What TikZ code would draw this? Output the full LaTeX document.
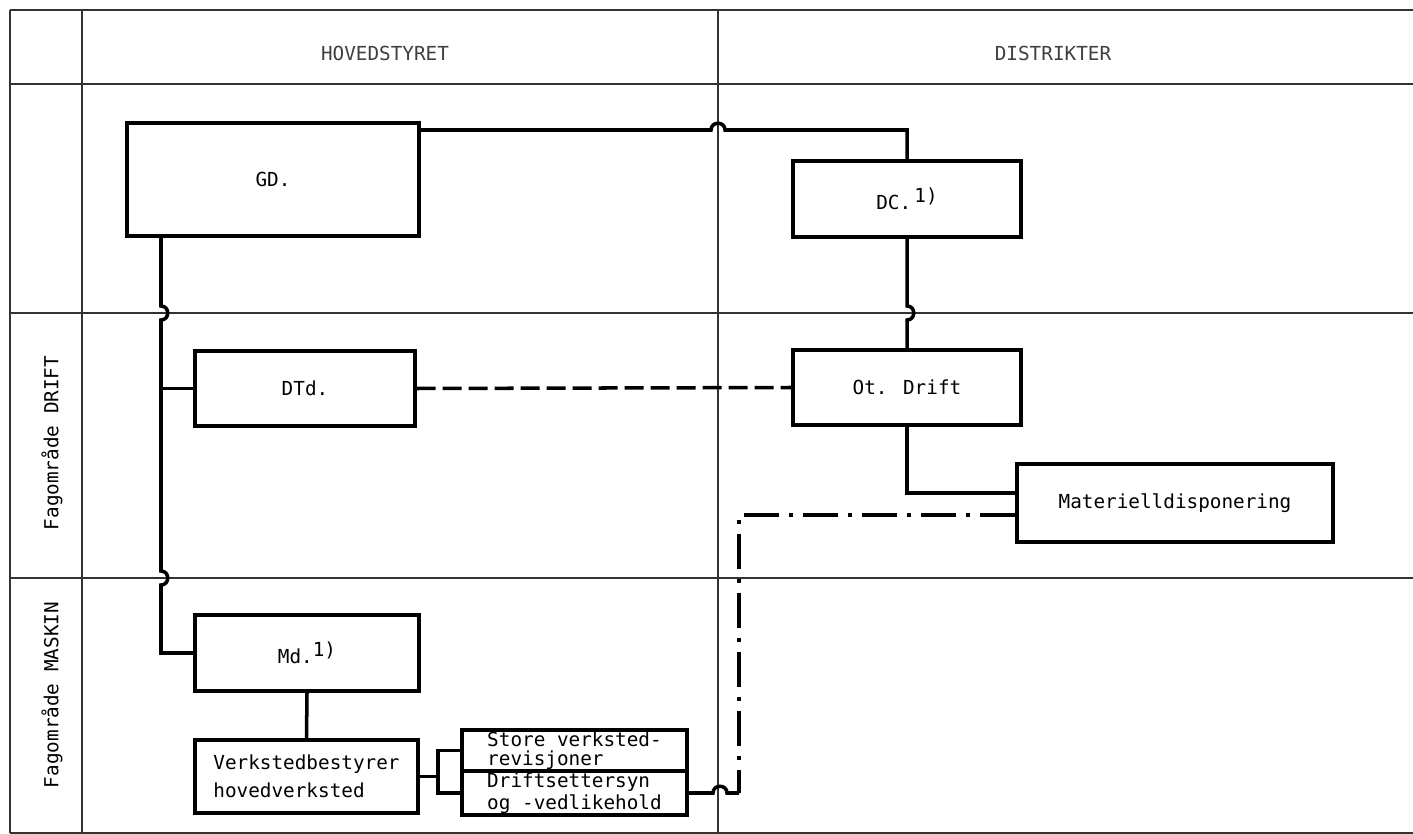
\documentclass[tikz,border=0pt]{standalone}
\usepackage{fontspec}
\setmainfont{DejaVu Sans Mono}
\begin{document}
\begin{tikzpicture}[x=0.02cm, y=-0.02cm, font=\fontsize{11}{12}\selectfont,
    frameline/.style={line width=1pt, black!80},
    orgbox/.style={draw, line width=2pt, inner sep=0pt},
    conn/.style={line width=2pt}]
  \useasboundingbox (0,0) rectangle (1413,834);

  % Table
  \foreach \y in {10,84,313,578,833}
    \draw[frameline] (10,\y) -- (1413,\y);
  \foreach \x in {10,82,718}
    \draw[frameline] (\x,10) -- (\x,833);

  % Headings
  \node[text=black!75] (hs) at (385,53) {HOVEDSTYRET};
  \node[text=black!75] (di) at (1053,53) {DISTRIKTER};
  \node[rotate=90] (fdrift) at (52,443) {Fagområde DRIFT};
  \node[rotate=90] (fmaskin) at (52,695) {Fagområde MASKIN};

  % Boxes
  \node[orgbox, minimum width=5.84cm, minimum height=2.26cm] (gd) at (273,179.5) {GD.};
  \node[orgbox, minimum width=4.56cm, minimum height=1.52cm] (dc) at (907,199) {DC.\,\raisebox{0.7ex}{1)}};
  \node[orgbox, minimum width=4.4cm, minimum height=1.5cm] (dtd) at (305,388.5) {DTd.};
  \node[orgbox, minimum width=4.56cm, minimum height=1.5cm] (otd) at (907,387.5) {Ot. Drift};
  \node[orgbox, minimum width=6.32cm, minimum height=1.56cm] (mat) at (1175,503) {Materielldisponering};
  \node[orgbox, minimum width=4.48cm, minimum height=1.52cm] (md) at (307,653) {Md.\raisebox{0.7ex}{1)}};
  \node[orgbox, minimum width=4.46cm, minimum height=1.46cm, align=left,
    font=\fontsize{11}{16}\selectfont] (verk) at (306.5,776.5) {Verkstedbestyrer\\hovedverksted};
  \node[orgbox, minimum width=4.5cm, minimum height=0.82cm, align=left,
    font=\fontsize{11}{10.5}\selectfont] (store) at (574.5,750.5) {Store verksted-\\revisjoner};
  \node[orgbox, minimum width=4.5cm, minimum height=0.88cm, align=left,
    font=\fontsize{11}{12.5}\selectfont] (drs) at (574.5,793) {Driftsettersyn\\og -vedlikehold};

  % Lines
  \coordinate (trunk) at (161,0);
  \coordinate (brk) at (438,0);
  \coordinate (ddot) at (739,793);
  \draw[conn] (gd.east |- 0,130) -- (711,130)
    .. controls (711,121) and (725,121) .. (725,130) -| (dc.north);
  \draw[conn] (dc.south) -- (907,306) .. controls (916,306) and (916,320) .. (907,320) -- (otd.north);
  \draw[conn] (gd.south -| trunk) -- (161,306) .. controls (170,306) and (170,320) .. (161,320)
    -- (161,571) .. controls (170,571) and (170,585) .. (161,585) |- (md.west);
  \draw[conn] (dtd.west) -- (dtd.west -| trunk);
  \draw[conn, dash pattern=on 0.38cm off 0.14cm] (dtd.east) -- (otd.west);
  \draw[conn] (otd.south) |- ([yshift=0.2cm]mat.west);
  \draw[conn, dash pattern=on 0.7cm off 0.2cm on 0.08cm off 0.2cm] ([yshift=-0.24cm]mat.west) -| (ddot);
  \draw[conn] (drs.east) -- (713,793) .. controls (713,784) and (727,784) .. (727,793) -- (ddot);
  \draw[conn] (md.south) -- (verk.north);
  \draw[conn] (verk.east) -- (verk.east -| brk);
  \draw[conn] (store.west) -| (brk |- drs.west) -- (drs.west);
\end{tikzpicture}
\end{document}
